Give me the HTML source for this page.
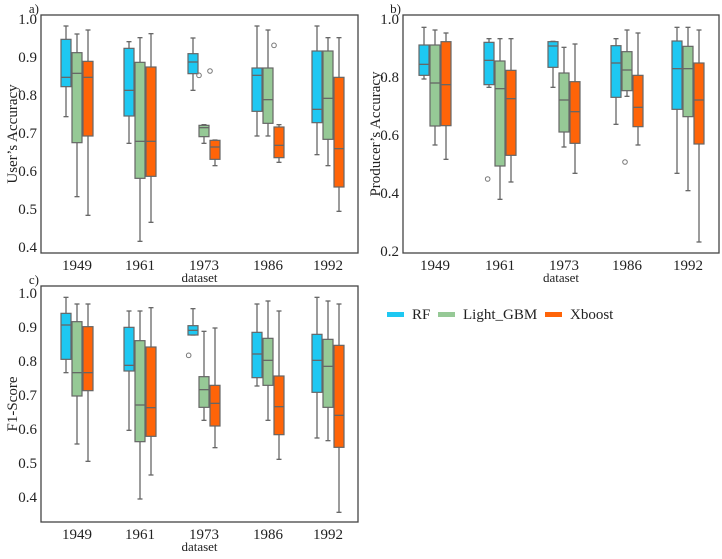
<!DOCTYPE html>
<html><head><meta charset="utf-8"><style>
html,body{margin:0;padding:0;background:#fff;}
svg{display:block;font-family:"Liberation Serif",serif;}
</style></head><body>
<svg id="s" width="722" height="559" xmlns="http://www.w3.org/2000/svg"></svg>
<script>
const s=document.getElementById('s');let h='';
const C=['#1ec8f2','#96c996','#ff6408'];
function panel(fx0,fy0,fx1,fy1,yTop,yBot,vTop,vBot,step,centers,xoff,yoff,data,label){
  h+=`<rect x="${fx0}" y="${fy0}" width="${fx1-fx0}" height="${fy1-fy0}" fill="#fff" stroke="#444" stroke-width="1.3"/>`;
  const n=Math.round((vTop-vBot)/step);
  for(let i=0;i<=n;i++){const v=vTop-i*step;const y=yTop+(yBot-yTop)*i/n;
    h+=`<text x="${fx0-4}" y="${y+5}" font-size="15" text-anchor="end" fill="#222">${v.toFixed(1)}</text>`;}
  const yrs=['1949','1961','1973','1986','1992'];
  centers.forEach((c,i)=>{h+=`<text x="${c}" y="${fy1+17}" font-size="15" text-anchor="middle" fill="#222">${yrs[i]}</text>`;});
  h+=`<text x="${(fx0+fx1)/2}" y="${fy1+29}" font-size="13" text-anchor="middle" fill="#222">dataset</text>`;
  h+=`<text x="${fx0-2}" y="${fy0-2}" font-size="13" text-anchor="end" fill="#222">${label}</text>`;
  data.forEach((g,gi)=>{g.forEach((b,bi)=>{
    if(!b)return;const cx=centers[gi]+(bi-1)*11;const w=10;
    const Y=v=>yoff+v/3;
    h+=`<line x1="${cx}" x2="${cx}" y1="${Y(b[0])}" y2="${Y(b[4])}" stroke="#666" stroke-width="1.3"/>`;
    h+=`<line x1="${cx-2.5}" x2="${cx+2.5}" y1="${Y(b[0])}" y2="${Y(b[0])}" stroke="#666" stroke-width="1.3"/>`;
    h+=`<line x1="${cx-2.5}" x2="${cx+2.5}" y1="${Y(b[4])}" y2="${Y(b[4])}" stroke="#666" stroke-width="1.3"/>`;
    h+=`<rect x="${cx-w/2}" y="${Y(b[1])}" width="${w}" height="${Y(b[3])-Y(b[1])}" fill="${C[bi]}" stroke="#666" stroke-width="1.2"/>`;
    h+=`<line x1="${cx-w/2}" x2="${cx+w/2}" y1="${Y(b[2])}" y2="${Y(b[2])}" stroke="#666" stroke-width="1.3"/>`;
    if(b[5])b[5].forEach(o=>{h+=`<circle cx="${xoff+o[0]/3}" cy="${Y(o[1])}" r="2.3" fill="none" stroke="#777" stroke-width="1"/>`;});
  });});
}
const cA=[77,140,204,268,328];
panel(41,15,358,253,19,247,1.0,0.4,0.1,cA,0,0,[
 [[78,118,232,260,350],[102,158,220,428,590],[90,184,232,408,646]],
 [[125,145,271,348,430],[113,187,424,535,724],[101,201,424,529,667]],
 [[114,161,186,221,271],[374,376,383,410,430,[[597,226]]],[420,421,441,478,497,[[630,213]]]],
 [[78,204,226,334,408],[90,204,299,370,408],[374,381,436,473,487,[[822,136]]]],
 [[78,153,328,368,464],[113,153,295,418,497],[113,232,446,561,634]]
],'a)');
const cB=[435,500,564,627,688];
panel(403,15,719,253,19,251,1.0,0.2,0.2,cB,360,0,[
 [[82,135,193,226,237],[90,135,249,378,435],[99,125,254,377,478]],
 [[116,127,181,254,262,[[383,537]]],[116,183,266,498,598],[116,211,296,466,546]],
 [[124,125,138,202,262],[142,219,300,396,441],[132,245,335,430,520]],
 [[116,137,189,292,373],[90,155,210,272,289,[[795,486]]],[99,226,322,380,435]],
 [[82,123,206,328,520],[82,139,206,350,572],[90,189,300,432,726]]
],'b)');
panel(41,286,358,522,293,497,1.0,0.4,0.1,cA,0,270,[
 [[82,130,165,268,308],[102,155,308,378,522],[102,170,308,362,574]],
 [[123,172,286,303,481],[123,212,405,515,687],[113,231,413,499,615]],
 [[116,167,181,195,195,[[566,256]]],[184,320,359,412,451],[174,346,400,468,533]],
 [[102,187,252,323,348],[93,205,271,346,451],[123,318,410,494,568]],
 [[82,193,271,367,504],[93,208,289,412,512],[102,226,436,532,727]]
],'c)');
h+=`<text transform="translate(17,134) rotate(-90)" font-size="15" text-anchor="middle" fill="#222">User’s Accuracy</text>`;
h+=`<text transform="translate(380,134) rotate(-90)" font-size="15" text-anchor="middle" fill="#222">Producer’s Accuracy</text>`;
h+=`<text transform="translate(17,404) rotate(-90)" font-size="15" text-anchor="middle" fill="#222">F1-Score</text>`;
[[387,'RF',0],[438,'Light_GBM',1],[545,'Xboost',2]].forEach(([x,t,i])=>{
 h+=`<rect x="${x}" y="312" width="17" height="5" fill="${C[i]}"/>`;
 h+=`<text x="${x+25}" y="319" font-size="15" fill="#222">${t}</text>`;});
s.innerHTML=h;
</script>
</body></html>
